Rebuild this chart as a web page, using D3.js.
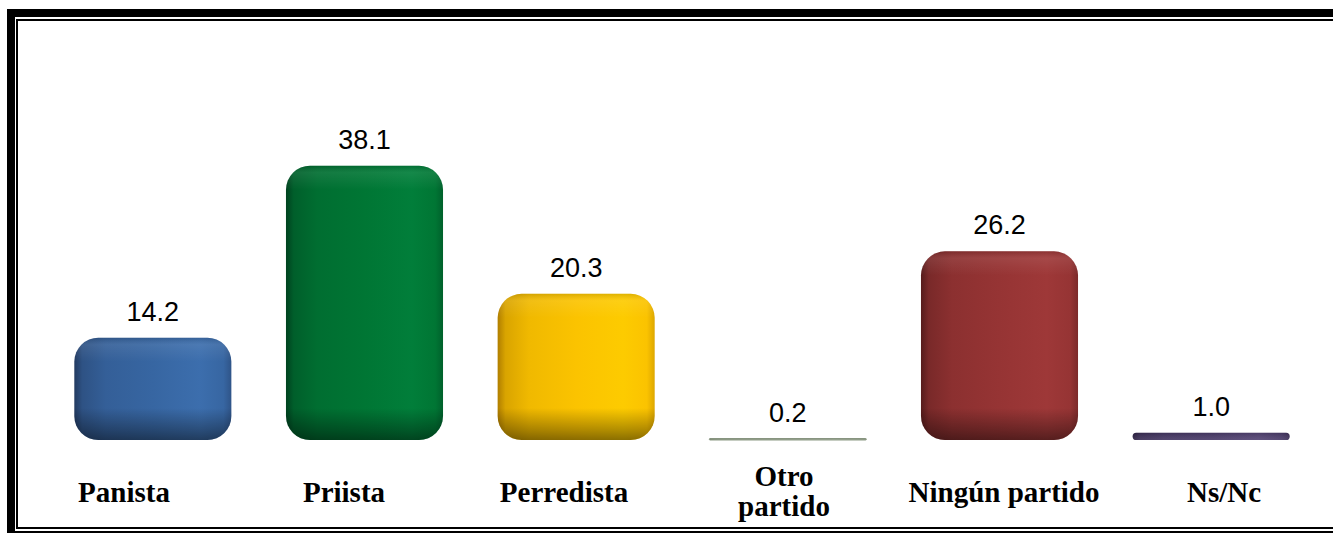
<!DOCTYPE html>
<html>
<head>
<meta charset="utf-8">
<script src="https://cdn.jsdelivr.net/npm/d3@7/dist/d3.min.js"></script>
<style>
  html, body { margin: 0; padding: 0; background: #fff; }
  svg { display: block; }
</style>
</head>
<body>
<svg id="chart" width="1333" height="533"></svg>
<script>
// ---- data ----
const categories = ["Panista", "Priista", "Perredista", "Otro partido", "Ningún partido", "Ns/Nc"];
const values = [14.2, 38.1, 20.3, 0.2, 26.2, 1.0];
const valueLabels = ["14.2", "38.1", "20.3", "0.2", "26.2", "1.0"];
const labelLines = [["Panista"], ["Priista"], ["Perredista"], ["Otro", "partido"], ["Ningún partido"], ["Ns/Nc"]];
// colour per bar: [dark edge, base, light highlight]
const barColors = [
  ["#223a60", "#3766a2", "#3f74b5"],
  ["#00421f", "#007634", "#02843e"],
  ["#b07e00", "#fbc300", "#ffd000"],
  ["#6b7a62", "#8e9c86", "#a0ad98"],
  ["#561c1c", "#963434", "#a43a3a"],
  ["#2b2042", "#4a3b69", "#5a4a7b"]
];

const W = 1333, H = 533;
const svg = d3.select("#chart");
const defs = svg.append("defs");

// ---- scales ----
const x = d3.scaleBand().domain(categories).range([47, 1317]).paddingInner(0.258).paddingOuter(0.129);
const y = d3.scaleLinear().domain([0, 40]).range([440, 152]);
const xl = d3.scalePoint().domain(categories).range([124, 1224]);

// ---- frame ----
svg.append("rect").attr("x", 11).attr("y", 13).attr("width", 1400).attr("height", 522)
  .attr("fill", "none").attr("stroke", "#000").attr("stroke-width", 8);
svg.append("rect").attr("x", 17).attr("y", 20).attr("width", 1400).attr("height", 508)
  .attr("fill", "none").attr("stroke", "#000").attr("stroke-width", 2);

// ---- gradients ----
categories.forEach((c, i) => {
  const [dk, base, lt] = barColors[i];
  const mix = (a, b, t) => d3.interpolateRgb(a, b)(t);
  const g = defs.append("linearGradient").attr("id", "hg" + i)
    .attr("x1", 0).attr("x2", 1).attr("y1", 0).attr("y2", 0);
  [[0, dk], [0.05, mix(dk, base, 0.55)], [0.2, mix(dk, base, 0.85)],
   [0.5, base], [0.8, mix(base, lt, 0.6)], [0.95, base], [1, mix(base, dk, 0.4)]]
    .forEach(([o, col]) => g.append("stop").attr("offset", o).attr("stop-color", col));

  const top = y(values[i]), bot = y(0), h = bot - top;
  const vg = defs.append("linearGradient").attr("id", "vg" + i)
    .attr("gradientUnits", "userSpaceOnUse")
    .attr("x1", 0).attr("x2", 0).attr("y1", top).attr("y2", bot);
  const hp = px => Math.max(0, Math.min(1, px / Math.max(h, 1)));
  vg.append("stop").attr("offset", 0).attr("stop-color", "#000").attr("stop-opacity", 0.12);
  vg.append("stop").attr("offset", hp(7)).attr("stop-color", "#fff").attr("stop-opacity", 0.08);
  vg.append("stop").attr("offset", hp(24)).attr("stop-color", "#fff").attr("stop-opacity", 0);
  vg.append("stop").attr("offset", 1 - hp(32)).attr("stop-color", "#000").attr("stop-opacity", 0);
  vg.append("stop").attr("offset", 1 - hp(10)).attr("stop-color", "#000").attr("stop-opacity", 0.3);
  vg.append("stop").attr("offset", 1).attr("stop-color", "#000").attr("stop-opacity", 0.45);
});

// ---- bars ----
const bars = svg.append("g").selectAll("g").data(categories).join("g");
function rr(sel) {
  sel.attr("x", d => x(d))
    .attr("y", (d, i) => y(values[i]))
    .attr("width", x.bandwidth())
    .attr("height", (d, i) => y(0) - y(values[i]))
    .attr("rx", (d, i) => Math.min(24, (y(0) - y(values[i])) / 2))
    .attr("ry", (d, i) => Math.min(24, (y(0) - y(values[i])) / 2));
}
bars.append("rect").call(rr).attr("fill", (d, i) => `url(#hg${i})`)
  .attr("stroke", (d, i) => values[i] < 0.5 ? barColors[i][1] : "none")
  .attr("stroke-width", 1);
bars.append("rect").call(rr).attr("fill", (d, i) => `url(#vg${i})`);

// ---- value labels ----
svg.append("g").selectAll("text").data(categories).join("text")
  .attr("x", d => x(d) + x.bandwidth() / 2)
  .attr("y", (d, i) => y(values[i]) - 17)
  .attr("text-anchor", "middle")
  .attr("font-family", "Liberation Sans, Arial, sans-serif")
  .attr("font-size", 27)
  .attr("fill", "#000")
  .text((d, i) => valueLabels[i]);

// ---- category labels (one text element per line) ----
const lineData = [];
categories.forEach((c, i) => {
  const lines = labelLines[i];
  const y0 = lines.length === 1 ? 502 : 486;
  lines.forEach((ln, k) => lineData.push({ c, text: ln, y: y0 + k * 30 }));
});
svg.append("g").selectAll("text").data(lineData).join("text")
  .attr("x", d => xl(d.c))
  .attr("y", d => d.y)
  .attr("text-anchor", "middle")
  .attr("font-family", "Liberation Serif, 'Times New Roman', serif")
  .attr("font-weight", "bold")
  .attr("font-size", 29)
  .attr("fill", "#000")
  .text(d => d.text);
</script>
</body>
</html>
